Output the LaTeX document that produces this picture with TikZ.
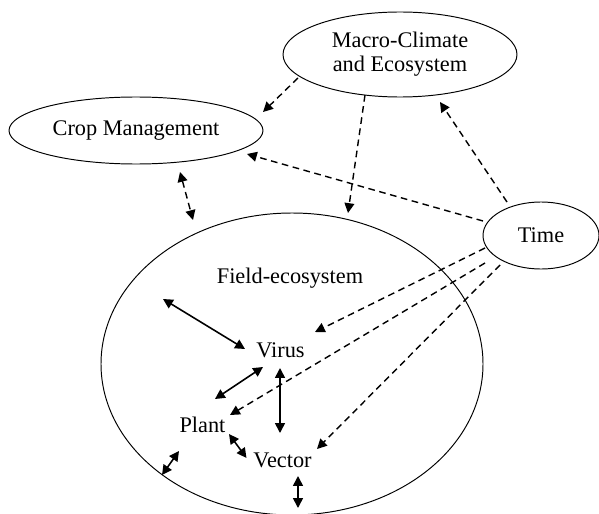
\documentclass[tikz,border=0pt]{standalone}
\usepackage{fontspec}
\setmainfont{Liberation Serif}
\usetikzlibrary{arrows.meta,shapes.geometric}
\begin{document}
\begin{tikzpicture}[line cap=butt, line join=round, >={Triangle[length=5.6pt,width=5.6pt]}]

    \tikzset{
      oval/.style={draw, ellipse, line width=0.55pt, inner sep=0pt,
        font=\fontsize{12.7}{13.6}\selectfont, align=center},
      lbl/.style={inner sep=0pt, font=\fontsize{12.7}{13.6}\selectfont},
      dasharrow/.style={->, line width=0.8pt, dash pattern=on 3.8pt off 2.6pt},
      both/.style={<->, line width=0.9pt}
    }

    \useasboundingbox (0,0) rectangle (11.98,-10.28);

    % the outer boxes
    \node[oval, minimum width=4.68cm, minimum height=1.70cm] (macro) at (8.00,-1.09) {Macro-Climate\\and Ecosystem};
    \node[oval, minimum width=5.08cm, minimum height=1.34cm] (crop) at (2.72,-2.61) {Crop Management};
    \node[oval, minimum width=2.32cm, minimum height=1.34cm] (time) at (10.82,-4.71) {Time};
    \node[oval, minimum width=7.64cm, minimum height=6.04cm] (field) at (5.84,-7.28) {};

    % inside the field
    \node[lbl] (fieldtxt) at (5.80,-5.56) {Field-ecosystem};
    \node[lbl] (virus) at (5.61,-7.00) {Virus};
    \node[lbl] (plant) at (4.05,-8.50) {Plant};
    \node[lbl] (vector) at (5.65,-9.20) {Vector};

    \coordinate (vfree) at (3.26,-5.98);
    \coordinate (pfreeA) at (3.24,-9.50);
    \coordinate (pfreeB) at (3.58,-9.02);
    \coordinate (cfree) at (5.96,-10.16);

    % solid links
    \draw[both] (vfree) -- ([shift={(-0.71,0.02)}]virus.center);
    \draw[both] ([shift={(0.25,0.52)}]plant.center) -- ([shift={(-0.35,-0.34)}]virus.center);
    \draw[both] ([shift={(-0.01,-0.36)}]virus.center) -- ([shift={(-0.05,0.54)}]vector.center);
    \draw[both] ([shift={(0.53,-0.18)}]plant.center) -- ([shift={(-0.72,0.04)}]vector.center);
    \draw[both] (pfreeA) -- (pfreeB);
    \draw[both] ([shift={(0.31,-0.32)}]vector.center) -- (cfree);

    % dashed links
    \draw[dasharrow] ([shift={(-2.04,-0.47)}]macro.center) -- ([shift={(2.54,0.37)}]crop.center);
    \draw[dasharrow] ([shift={(-0.70,-0.81)}]macro.center) -- ([shift={(1.12,3.02)}]field.center);
    \draw[dasharrow] ([shift={(-0.68,0.67)}]time.center) -- ([shift={(0.80,-0.95)}]macro.center);
    \draw[dasharrow] ([shift={(-1.16,0.29)}]time.center) -- ([shift={(2.22,-0.47)}]crop.center);
    \draw[dasharrow, <->] ([shift={(0.88,-0.83)}]crop.center) -- ([shift={(-1.98,2.88)}]field.center);
    \draw[dasharrow] ([shift={(-1.12,-0.25)}]time.center) -- ([shift={(0.69,0.36)}]virus.center);
    \draw[dasharrow] ([shift={(-1.12,-0.55)}]time.center) -- ([shift={(0.55,0.20)}]plant.center);
    \draw[dasharrow] ([shift={(-0.82,-0.59)}]time.center) -- ([shift={(0.69,0.22)}]vector.center);

\end{tikzpicture}
\end{document}
